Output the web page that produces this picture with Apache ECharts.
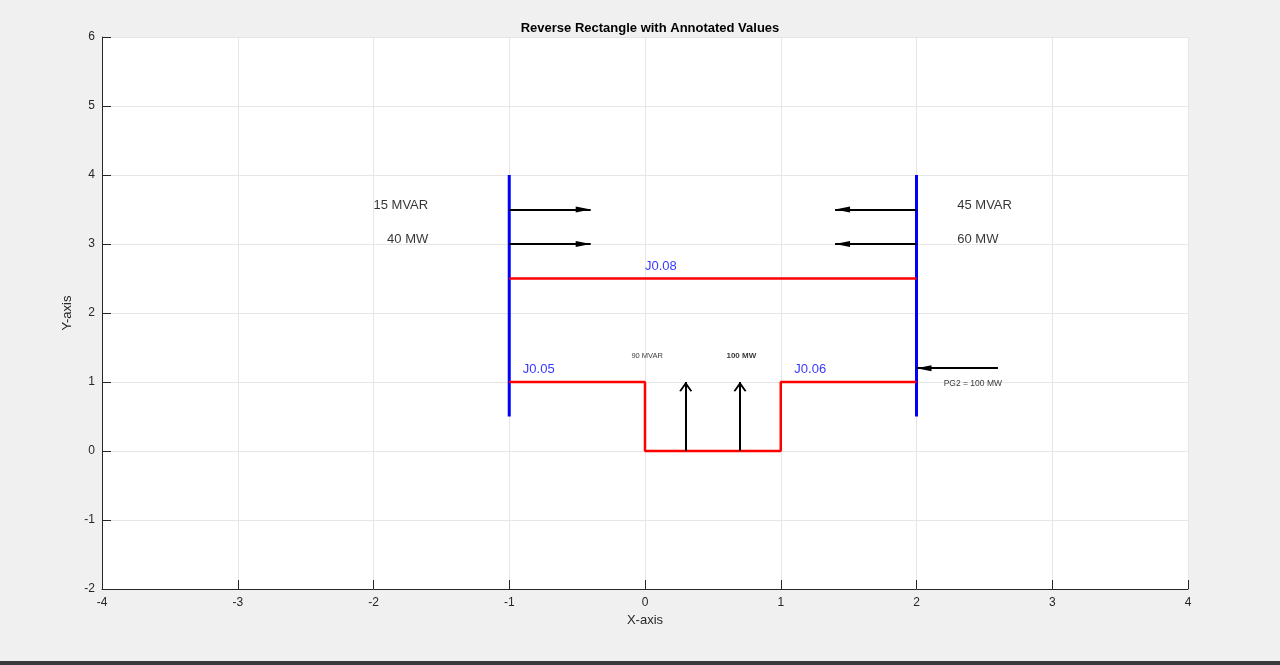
<!DOCTYPE html>
<html>
<head>
<meta charset="utf-8">
<title>Reverse Rectangle with Annotated Values</title>
<script src="https://cdn.jsdelivr.net/npm/echarts@6/dist/echarts.min.js"></script>
<style>
    html, body { margin: 0; padding: 0; background: #f0f0f0; }
    #main { width: 1280px; height: 665px; }
</style>
</head>
<body>
<div id="main"></div>
<script>
// axis ticks
var xTicks = [-4, -3, -2, -1, 0, 1, 2, 3, 4];
var yTicks = [-2, -1, 0, 1, 2, 3, 4, 5, 6];

// blue bus bars (x, y pairs)
var busLeft = [[-1, 0.5], [-1, 4]];
var busRight = [[2, 0.5], [2, 4]];

// red lines
var lineTop = [[-1, 2.5], [2, 2.5]];
var lineBottom = [[-1, 1], [0, 1], [0, 0], [1, 0], [1, 1], [2, 1]];

// arrows: [start, end]
var arrowsFilled = [
    [[-1, 3.5], [-0.4, 3.5]],
    [[-1, 3], [-0.4, 3]],
    [[2, 3.5], [1.4, 3.5]],
    [[2, 3], [1.4, 3]],
    [[2.6, 1.2], [2, 1.2]]
];
var arrowsOpen = [
    [[0.3, 0], [0.3, 1]],
    [[0.7, 0], [0.7, 1]]
];

// annotations: [x, y, text]
var labelsBig = [
    [-2, 3.56, '15 MVAR'],
    [-1.9, 3.07, '40 MW'],
    [2.3, 3.56, '45 MVAR'],
    [2.3, 3.07, '60 MW']
];
var labelsBlue = [
    [0, 2.68, 'J0.08'],
    [-0.9, 1.18, 'J0.05'],
    [1.1, 1.18, 'J0.06']
];
var labelsTiny = [
    [-0.1, 1.38, '90 MVAR']
];
var labelsSmall = [
    [2.2, 0.98, 'PG2 = 100 MW']
];
var labelsSmallBold = [
    [0.6, 1.38, '100 MW']
];

var font = 'Liberation Sans, Helvetica, Arial, sans-serif';
var axisColor = '#262626';

// arrow heads: a dummy point keeps the tip in the middle of the symbol box,
// so the tip lands on the end of the line
var headFilled = 'path://M0,0 L0,0.01 M0,10 L2,20 L-2,20 Z';
var headOpen = 'path://M0,0 L0,0.01 M0,9 L5,18 L3.6,18.6 L0,12.2 L-3.6,18.6 L-5,18 Z';

function toLines(arr) {
    var out = [];
    for (var i = 0; i < arr.length; i++) {
        out.push({ coords: arr[i] });
    }
    return out;
}

function textSeries(arr, size, color, weight) {
    return {
        type: 'scatter',
        symbolSize: 0,
        silent: true,
        data: arr,
        label: {
            show: true,
            position: [0, 0],
            align: 'left',
            verticalAlign: 'middle',
            fontFamily: font,
            fontSize: size,
            fontWeight: weight || 'normal',
            color: color,
            formatter: function (p) { return p.data[2]; }
        },
        z: 5
    };
}

var myChart = echarts.init(document.getElementById('main'));

var option = {
    backgroundColor: '#f0f0f0',
    animation: false,
    title: {
        text: 'Reverse Rectangle with Annotated Values',
        left: 645,
        textAlign: 'center',
        top: 17,
        textStyle: { fontFamily: font, fontSize: 13, fontWeight: 'bold', color: '#000' }
    },
    grid: {
        left: 102,
        right: 92,
        top: 37,
        bottom: 76,
        show: true,
        backgroundColor: '#ffffff',
        borderWidth: 0
    },
    xAxis: {
        type: 'value',
        min: -4,
        max: 4,
        interval: 1,
        name: 'X-axis',
        nameLocation: 'middle',
        nameGap: 25,
        nameTextStyle: { fontFamily: font, fontSize: 13, color: axisColor },
        axisLine: { show: true, onZero: false, lineStyle: { color: axisColor, width: 1 } },
        axisTick: { show: true, inside: true, length: 9, lineStyle: { color: axisColor } },
        axisLabel: { fontFamily: font, fontSize: 12, color: axisColor, margin: 8,
            formatter: function (v) { return xTicks.indexOf(v) >= 0 ? String(v) : ''; } },
        splitLine: { show: true, lineStyle: { color: '#e6e6e6', width: 1 } }
    },
    yAxis: {
        type: 'value',
        min: -2,
        max: 6,
        interval: 1,
        name: 'Y-axis',
        nameLocation: 'middle',
        nameGap: 22,
        nameTextStyle: { fontFamily: font, fontSize: 13, color: axisColor },
        axisLine: { show: true, onZero: false, lineStyle: { color: axisColor, width: 1 } },
        axisTick: { show: true, inside: true, length: 9, lineStyle: { color: axisColor } },
        axisLabel: { fontFamily: font, fontSize: 12, color: axisColor, margin: 7,
            formatter: function (v) { return yTicks.indexOf(v) >= 0 ? String(v) : ''; } },
        splitLine: { show: true, lineStyle: { color: '#e6e6e6', width: 1 } }
    },
    graphic: [{
        type: 'rect',
        shape: { x: 0, y: 661, width: 1280, height: 4 },
        style: { fill: '#3a3a3a' }
    }],
    series: [
        {
            type: 'line', data: busLeft, showSymbol: false, silent: true,
            lineStyle: { color: '#0000ff', width: 3 }
        },
        {
            type: 'line', data: busRight, showSymbol: false, silent: true,
            lineStyle: { color: '#0000ff', width: 3 }
        },
        {
            type: 'line', data: lineTop, showSymbol: false, silent: true,
            lineStyle: { color: '#ff0000', width: 2.5 }
        },
        {
            type: 'line', data: lineBottom, showSymbol: false, silent: true,
            lineStyle: { color: '#ff0000', width: 2.5 }
        },
        {
            type: 'lines',
            coordinateSystem: 'cartesian2d',
            silent: true,
            symbol: ['none', headFilled],
            symbolSize: [0, [6, 30]],
            lineStyle: { color: '#000', width: 2, opacity: 1 },
            data: toLines(arrowsFilled),
            z: 4
        },
        {
            type: 'lines',
            coordinateSystem: 'cartesian2d',
            silent: true,
            symbol: ['none', headOpen],
            symbolSize: [0, [13, 19]],
            lineStyle: { color: '#000', width: 2, opacity: 1 },
            data: toLines(arrowsOpen),
            z: 4
        },
        textSeries(labelsBig, 13, '#000'),
        textSeries(labelsBlue, 13, '#0000ff'),
        textSeries(labelsTiny, 7.5, '#000'),
        textSeries(labelsSmall, 8.5, '#000'),
        textSeries(labelsSmallBold, 8, '#000', 'bold')
    ]
};

myChart.setOption(option);
</script>
</body>
</html>
